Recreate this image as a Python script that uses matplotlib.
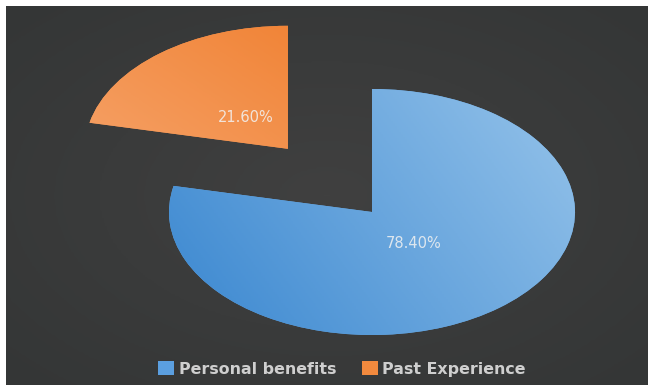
import numpy as np
import matplotlib
matplotlib.use("Agg")
import matplotlib.pyplot as plt
from matplotlib.colors import LinearSegmentedColormap
from matplotlib.patches import Patch

# ---- data ----
labels = ["Personal benefits", "Past Experience"]
shares = [78.4, 21.6]
explode = [0.0, 0.66]
colors = ["#68a6e0", "#f39552"]
# light/dark ends of each wedge's shading, plus direction of the ramp
grad_ends = [("#3a87d0", "#95c3ea"), ("#f7ad7a", "#ef7620")]
grad_dirs = [(1.0, 0.45), (1.0, 0.9)]

W, H = 648, 385
fig = plt.figure(figsize=(W / 100, H / 100), dpi=100, facecolor="white")

# dark slide background with a faint radial glow
bg = fig.add_axes([6 / W, 0, 1 - 6 / W, 1 - 6 / H])
yy, xx = np.mgrid[-1:1:200j, -1:1:300j]
rr = np.sqrt(xx ** 2 + yy ** 2)
bg_cmap = LinearSegmentedColormap.from_list("bg", ["#404040", "#343636"])
bg.imshow(rr, cmap=bg_cmap, aspect="auto", extent=[0, 1, 0, 1])
bg.set_axis_off()

# pie axes: unit radius -> 203 px wide, 123 px tall, centre at (372, 212)
ax = fig.add_axes([0, 0, 1, 1])
ax.patch.set_alpha(0)
cx, cy, rx, ry = 372, 212, 203, 123
xlim = (-cx / rx, (W - cx) / rx)
ylim = (-(H - cy) / ry, cy / ry)

wedges, texts, autotexts = ax.pie(
    shares, explode=explode, colors=colors, startangle=90, counterclock=False,
    autopct="%.2f%%", pctdistance=0.33,
    textprops=dict(color="#f2f2f2", fontsize=10.5),
)

for w, (c0, c1), (dx, dy) in zip(wedges, grad_ends, grad_dirs):
    x0, y0 = w.center
    r = w.r
    gy, gx = np.mgrid[-1:1:200j, -1:1:200j]
    t = gx * dx + gy * dy
    t = (t - t.min()) / (t.max() - t.min())
    cm = LinearSegmentedColormap.from_list("g", [c0, c1])
    im = ax.imshow(t, cmap=cm, origin="lower", aspect="auto",
                   extent=[x0 - r, x0 + r, y0 - r, y0 + r], zorder=w.zorder + 0.1)
    im.set_clip_path(w)

for t in autotexts:
    t.set_zorder(5)
    t.set_alpha(0.85)

ax.set_aspect("auto")
ax.set_xlim(*xlim)
ax.set_ylim(*ylim)
ax.set_axis_off()

handles = [Patch(facecolor=c, edgecolor="none") for c in ["#5b9fe0", "#f28a3e"]]
leg = fig.legend(handles, labels, loc="center", bbox_to_anchor=(0.528, 0.042),
                 ncol=2, frameon=False, handlelength=1.0, handleheight=1.0,
                 handletextpad=0.3, columnspacing=1.6,
                 prop=dict(size=11.4, weight="bold"))
for txt in leg.get_texts():
    txt.set_color("#cfcfcf")

fig.savefig("out.png", dpi=100, facecolor="white")
